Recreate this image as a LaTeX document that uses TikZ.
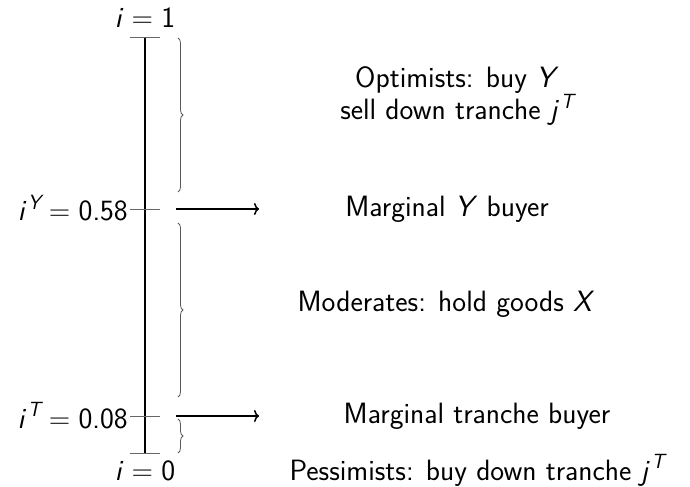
\documentclass[tikz,border=0pt]{standalone}
\usepackage{fontspec}
\usetikzlibrary{decorations.pathreplacing,arrows.meta}
\newcommand{\mv}[1]{{\itshape #1\/}}
\newcommand{\msup}[1]{\hspace{.05em}\raisebox{.40em}{\fontsize{20.6}{20}\selectfont\itshape #1}}
\newcommand{\eqs}{\hspace{.28em}=\hspace{.28em}}
\begin{document}
\begin{tikzpicture}[x=1bp,y=-1bp,
  every node/.style={font=\fontsize{29.5}{33}\selectfont\sffamily, inner sep=0pt},
  axis/.style={line width=1.9bp, black},
  tick/.style={line width=0.9bp, black!60},
  bracex/.style={decorate, decoration={brace, amplitude=5bp}, line width=0.8bp, black!65},
  marrow/.style={line width=1.5bp, -{To[length=5bp,width=12bp]}},
  desc/.style={anchor=center, align=center}]
\useasboundingbox (0,0) rectangle (690,487);
% axis
\coordinate (top) at (145,37);
\coordinate (bot) at (145,453);
\coordinate (ty) at (145,209);
\coordinate (tt) at (145,416);
\draw[axis] (top) -- (bot);
\draw[tick] ([xshift=-15bp]top) -- ([xshift=15bp]top);
\draw[tick] ([xshift=-15bp]bot) -- ([xshift=15bp]bot);
\draw[tick] ([xshift=-15bp]ty) -- ([xshift=15bp]ty);
\draw[tick] ([xshift=-15bp]tt) -- ([xshift=15bp]tt);
% labels on axis
\node[anchor=base] (l1) at (145,28) {\mv{i}\eqs 1};
\node[anchor=base] (l0) at (145,480) {\mv{i}\eqs 0};
\node[anchor=base east] (ly) at (128,221) {\mv{i}\msup{Y}\eqs 0.58};
\node[anchor=base east] (lt) at (128,428) {\mv{i}\msup{T}\eqs 0.08};
% braces
\coordinate (b1a) at (178,38);
\coordinate (b1b) at (178,192);
\coordinate (b2a) at (178,223);
\coordinate (b2b) at (178,397);
\coordinate (b3a) at (178,419);
\coordinate (b3b) at (178,453);
\draw[bracex] (b1a) -- (b1b);
\draw[bracex] (b2a) -- (b2b);
\draw[bracex] (b3a) -- (b3b);
% arrows
\coordinate (ay1) at (176,209);
\coordinate (ay2) at (259,209);
\coordinate (at1) at (176,416);
\coordinate (at2) at (259,416);
\draw[marrow] (ay1) -- (ay2);
\draw[marrow] (at1) -- (at2);
% descriptions
\node[desc] (opt) at (457,96) {Optimists: buy \mv{Y}\\ sell down tranche \mv{j}\msup{T}};
\node[desc] (my) at (447,209) {Marginal \mv{Y} buyer};
\node[desc] (mod) at (446,304) {Moderates: hold goods \mv{X}};
\node[desc] (mt) at (477,416) {Marginal tranche buyer};
\node[anchor=base] (pes) at (477,480) {Pessimists: buy down tranche \mv{j}\msup{T}};
\end{tikzpicture}
\end{document}
